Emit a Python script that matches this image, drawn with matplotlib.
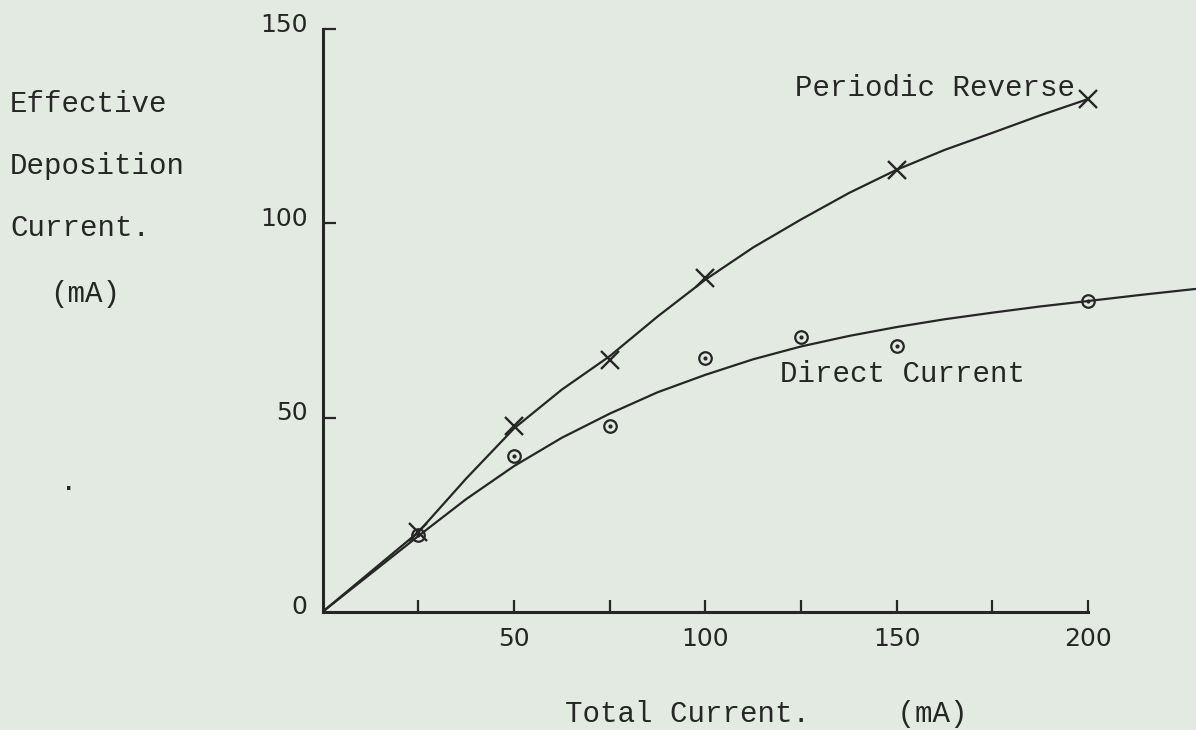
import matplotlib
matplotlib.use('Agg')
import matplotlib.pyplot as plt
from matplotlib.transforms import ScaledTranslation

# Valores (mA)
corrente_total = [25, 50, 75, 100, 150, 200]
reverso_periodico = [20.5, 47.8, 64.8, 85.9, 113.8, 132.0]

corrente_total_dc = [25, 50, 75, 100, 125, 150, 200]
corrente_direta = [19.8, 40.2, 47.8, 65.3, 70.7, 68.3, 79.9]

# Curvas desenhadas à mão (pontos lidos ao longo da linha)
curva_pr_x = [0, 25, 37.5, 50, 62.5, 75, 87.5, 100, 112.5, 125, 137.5, 150, 162.5, 175, 187.5, 200]
curva_pr_y = [0, 20.5, 34.3, 47.2, 57.2, 65.8, 76.0, 85.5, 93.8, 101.0, 107.8, 113.8, 118.9, 123.3, 127.8, 132.0]

curva_dc_x = [0, 25, 37.5, 50, 62.5, 75, 87.5, 100, 112.5, 125, 137.5, 150, 162.5, 175, 187.5, 200, 214, 228]
curva_dc_y = [0, 19.5, 29.0, 37.5, 44.8, 51.0, 56.5, 61.0, 65.0, 68.3, 71.0, 73.3, 75.3, 77.0, 78.6, 80.0, 81.6, 83.1]

rotulos_x = [50, 100, 150, 200]
menores_x = [25, 75, 125, 175]
rotulos_y = [0, 50, 100, 150]

papel = '#e3eae2'
tinta = '#262626'
mono = 'Liberation Mono'
tam = 21

fig = plt.figure(figsize=(11.96, 7.30), dpi=100, facecolor=papel)
ax = fig.add_axes([0.2698, 0.162, 0.7302, 0.838])
ax.set_facecolor(papel)

# Curvas
ax.plot(curva_pr_x, curva_pr_y, color=tinta, linewidth=1.6, solid_capstyle='round',
        solid_joinstyle='round')
ax.plot(curva_dc_x, curva_dc_y, color=tinta, linewidth=1.6, solid_capstyle='round',
        solid_joinstyle='round')

# Marcadores
ax.plot(corrente_total, reverso_periodico, linestyle='none', marker='x',
        markersize=13, markeredgewidth=1.7, color=tinta)
ax.plot(corrente_total_dc, corrente_direta, linestyle='none', marker='o',
        markersize=9, markeredgewidth=1.6, markerfacecolor='none', markeredgecolor=tinta)
ax.plot(corrente_total_dc, corrente_direta, linestyle='none', marker='o',
        markersize=2, color=tinta)

# Eixos
ax.set_xlim(0, 228.2)
ax.set_ylim(0, 157.5)
for lado in ['top', 'right']:
    ax.spines[lado].set_visible(False)
ax.spines['left'].set_bounds(0, 150)
ax.spines['bottom'].set_bounds(0, 200)
for lado in ['left', 'bottom']:
    ax.spines[lado].set_linewidth(2.2)
    ax.spines[lado].set_color(tinta)

ax.set_xticks(rotulos_x)
ax.set_xticks(menores_x, minor=True)
ax.set_xticklabels([str(v) for v in rotulos_x])
ax.set_yticks(rotulos_y)
ax.set_yticklabels([str(v) for v in rotulos_y])
ax.tick_params(axis='x', which='both', direction='in', length=9, width=1.6,
               color=tinta, labelsize=18, labelcolor=tinta, pad=11)
ax.tick_params(axis='y', direction='in', length=9, width=1.6,
               color=tinta, labelsize=18, labelcolor=tinta, pad=11)
ax.yaxis.get_major_ticks()[0].tick1line.set_visible(False)

# Rótulos do eixo y um pouco acima das marcas, como no original
desloc = ScaledTranslation(0, 7 / 100, fig.dpi_scale_trans)
for rotulo in ax.get_yticklabels():
    rotulo.set_transform(rotulo.get_transform() + desloc)

# Textos à máquina de escrever
fig.text(10 / 1196, 1 - 104 / 730, 'Effective', family=mono, fontsize=tam,
         color=tinta, va='center', ha='left')
fig.text(10 / 1196, 1 - 166 / 730, 'Deposition', family=mono, fontsize=tam,
         color=tinta, va='center', ha='left')
fig.text(10 / 1196, 1 - 228 / 730, 'Current.', family=mono, fontsize=tam,
         color=tinta, va='center', ha='left')
fig.text(50 / 1196, 1 - 294 / 730, '(mA)', family=mono, fontsize=tam,
         color=tinta, va='center', ha='left')
fig.text(60 / 1196, 1 - 482 / 730, '.', family=mono, fontsize=tam,
         color=tinta, va='center', ha='left')

fig.text(795 / 1196, 1 - 88 / 730, 'Periodic Reverse', family=mono, fontsize=tam,
         color=tinta, va='center', ha='left')
fig.text(780 / 1196, 1 - 374 / 730, 'Direct Current', family=mono, fontsize=tam,
         color=tinta, va='center', ha='left')
fig.text(565 / 1196, 1 - 714 / 730, 'Total Current.     (mA)', family=mono, fontsize=tam,
         color=tinta, va='center', ha='left')

fig.savefig('out.png', dpi=100, facecolor=papel)
